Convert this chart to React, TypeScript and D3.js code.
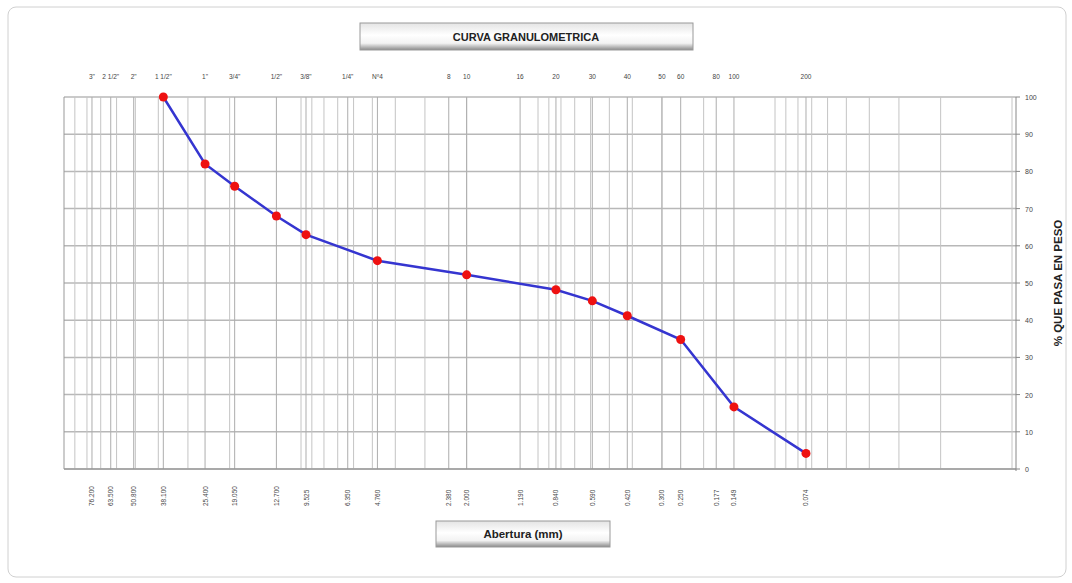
import * as d3 from 'd3';

// sieve names (top axis) and openings in mm (bottom axis)
const sieveNames = ['3"', '2 1/2"', '2"', '1 1/2"', '1"', '3/4"', '1/2"', '3/8"', '1/4"', 'Nº4', '8', '10', '16', '20', '30', '40', '50', '60', '80', '100', '200'];
const sieveOpenings = [76.2, 63.5, 50.8, 38.1, 25.4, 19.05, 12.7, 9.525, 6.35, 4.76, 2.38, 2.0, 1.19, 0.84, 0.59, 0.42, 0.3, 0.25, 0.177, 0.149, 0.074];

// test results
const sampleOpenings = [38.1, 25.4, 19.05, 12.7, 9.525, 4.76, 2.0, 0.84, 0.59, 0.42, 0.25, 0.149, 0.074];
const samplePassing = [100, 82, 76, 68, 63, 56, 52.2, 48.2, 45.2, 41.2, 34.8, 16.7, 4.2];

const yTicks = [0, 10, 20, 30, 40, 50, 60, 70, 80, 90, 100];

export default function App() {
  const W = 1072;
  const H = 583;
  const left = 64;
  const right = 1012;
  const top = 97;
  const bottom = 469;

  const x = d3.scaleLog().domain([100, 0.01]).range([left, right]);
  const y = d3.scaleLinear().domain([0, 100]).range([bottom, top]);

  // log minor grid 1..9 per decade
  const minor: number[] = [];
  for (let e = -2; e < 2; e++) {
    for (let m = 1; m < 10; m++) minor.push(m * Math.pow(10, e));
  }

  const line = d3.line<number>()
    .x((_, i) => x(sampleOpenings[i]))
    .y((d) => y(d));

  const font = 'Arial, "Liberation Sans", sans-serif';

  return (
    <svg width={W} height={H} style={{ position: 'fixed', left: 0, top: 0, background: '#fff' }}>
      <defs>
        <linearGradient id="btn" x1="0" y1="0" x2="0" y2="1">
          <stop offset="0" stopColor="#e4e4e4" />
          <stop offset="0.45" stopColor="#ffffff" />
          <stop offset="0.75" stopColor="#f2f2f2" />
          <stop offset="1" stopColor="#8a8a8a" />
        </linearGradient>
      </defs>
      <rect x={8} y={7} width={1058} height={570} rx={8} fill="#fff" stroke="#d0d0d0" />

      {/* title */}
      <rect x={360} y={23} width={333} height={27} fill="url(#btn)" stroke="#9a9a9a" />
      <text x={526} y={41} textAnchor="middle" fontFamily={font} fontSize={11} fontWeight="bold" fill="#222">
        CURVA GRANULOMETRICA
      </text>

      {/* horizontal grid */}
      {yTicks.map((t) => (
        <line key={'h' + t} x1={left} x2={1016} y1={y(t)} y2={y(t)} stroke="#b8b8b8" strokeWidth={1.5} />
      ))}
      {/* vertical grid */}
      {minor.map((v, i) => (
        <line key={'m' + i} x1={x(v)} x2={x(v)} y1={top} y2={bottom} stroke="#c4c4c4" strokeWidth={1} />
      ))}
      {sieveOpenings.map((v, i) => (
        <line key={'s' + i} x1={x(v)} x2={x(v)} y1={top} y2={bottom} stroke="#adadad" strokeWidth={1} />
      ))}

      {/* axes */}
      <line x1={left} x2={1016} y1={bottom} y2={bottom} stroke="#888" />
      <line x1={left} x2={left} y1={top} y2={bottom} stroke="#999" />
      <line x1={1016} x2={1016} y1={top} y2={bottom + 2} stroke="#888" />
      {yTicks.map((t) => (
        <g key={'yt' + t}>
          <line x1={1016} x2={1020} y1={y(t)} y2={y(t)} stroke="#888" />
          <text x={1025} y={y(t) + 3} fontFamily={font} fontSize={7} fill="#444">{t}</text>
        </g>
      ))}
      <text transform={`translate(1062,${(top + bottom) / 2}) rotate(-90)`} textAnchor="middle"
        fontFamily={font} fontSize={11.5} fontWeight="bold" fill="#222">% QUE PASA EN PESO</text>

      {/* top labels */}
      {sieveNames.map((n, i) => (
        <text key={'tn' + i} x={x(sieveOpenings[i])} y={79} textAnchor="middle" fontFamily={font} fontSize={6.5} fill="#444">{n}</text>
      ))}
      {/* bottom labels */}
      {sieveOpenings.map((v, i) => (
        <text key={'bn' + i} transform={`translate(${x(v) + 2.5},${506}) rotate(-90)`} fontFamily={font} fontSize={6.5} fill="#444">
          {v.toFixed(3)}
        </text>
      ))}

      {/* curve */}
      <path d={line(samplePassing) || ''} fill="none" stroke="#3535d0" strokeWidth={2.5} />
      {samplePassing.map((p, i) => (
        <circle key={'p' + i} cx={x(sampleOpenings[i])} cy={y(p)} r={4.5} fill="#ee1111" />
      ))}

      {/* x axis title */}
      <rect x={436} y={521} width={174} height={26} fill="url(#btn)" stroke="#9a9a9a" />
      <text x={523} y={538} textAnchor="middle" fontFamily={font} fontSize={11.5} fontWeight="bold" fill="#222">
        Abertura (mm)
      </text>
    </svg>
  );
}
